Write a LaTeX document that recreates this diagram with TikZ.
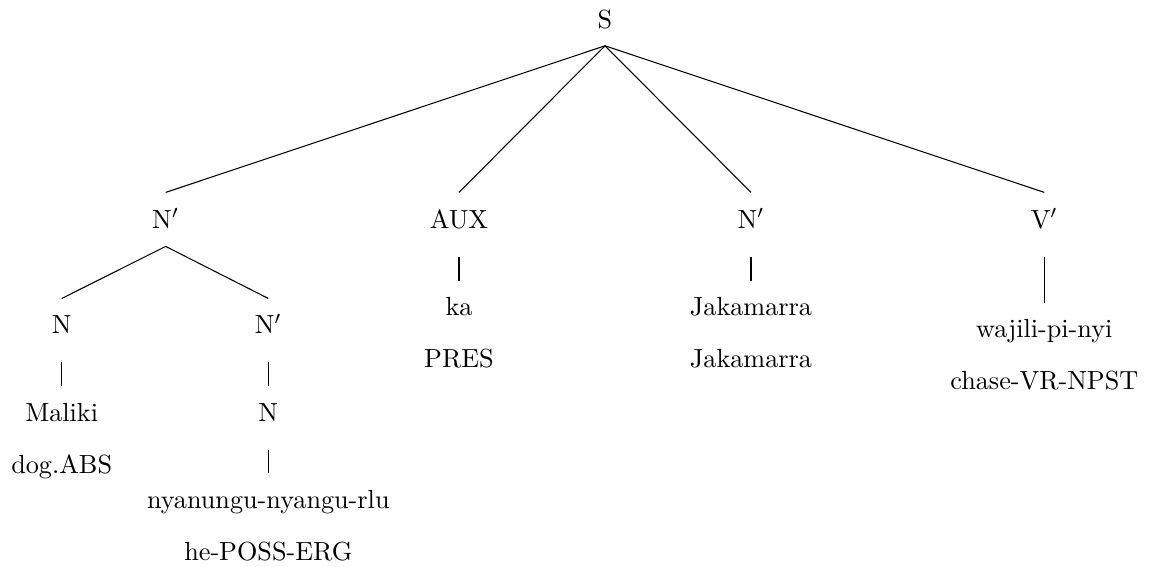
\documentclass[tikz,border=0pt]{standalone}
\usetikzlibrary{calc}
\begin{document}
\begin{tikzpicture}[x=0.013415cm,y=-0.013415cm,
  lbl/.style={anchor=base,inner sep=0pt},
  edge/.style={line width=0.4pt}]
\useasboundingbox (0,0) rectangle (1149,567);
% nodes (positions at baselines)
\node[lbl] (S) at (605,28.3) {S};
\node[lbl] (NP1) at (165.7,228.4) {N$'$};
\node[lbl] (AUX) at (459,228.4) {AUX};
\node[lbl] (NP2) at (751,228.4) {N$'$};
\node[lbl] (VP) at (1044.3,228.4) {V$'$};
\node[lbl] (N1) at (61.7,334) {N};
\node[lbl] (NP3) at (268.3,334) {N$'$};
\node[lbl] (Maliki) at (61.7,421.5) {Maliki};
\node[lbl] (dog) at (61.7,473.5) {dog.ABS};
\node[lbl] (N2) at (268.3,421.5) {N};
\node[lbl] (nya) at (268.3,508.5) {nyanungu-nyangu-rlu};
\node[lbl] (he) at (268.3,560.5) {he-POSS-ERG};
\node[lbl] (ka) at (459,316) {ka};
\node[lbl] (pres) at (459,368) {PRES};
\node[lbl] (jak1) at (751,316) {Jakamarra};
\node[lbl] (jak2) at (751,368) {Jakamarra};
\node[lbl] (waj) at (1044.3,338) {wajili-pi-nyi};
\node[lbl] (chase) at (1044.3,390) {chase-VR-NPST};
% branching edges
\foreach \c in {NP1,AUX,NP2,VP}
  \draw[edge] ($(S.base)+(0,17.5)$) -- ($(\c.base)+(0,-36)$);
\foreach \c in {N1,NP3}
  \draw[edge] ($(NP1.base)+(0,18)$) -- ($(\c.base)+(0,-35.5)$);
% unary edges
\draw[edge] ($(N1.base)+(0,28.5)$) -- ($(Maliki.base)+(0,-35.2)$);
\draw[edge] ($(NP3.base)+(0,28.5)$) -- ($(N2.base)+(0,-35.2)$);
\draw[edge] ($(N2.base)+(0,28.5)$) -- ($(nya.base)+(0,-35.2)$);
\draw[edge] ($(AUX.base)+(0,28.5)$) -- ($(ka.base)+(0,-35.2)$);
\draw[edge] ($(NP2.base)+(0,28.5)$) -- ($(jak1.base)+(0,-35.2)$);
\draw[edge] ($(VP.base)+(0,28.5)$) -- ($(waj.base)+(0,-35.2)$);
\end{tikzpicture}
\end{document}
